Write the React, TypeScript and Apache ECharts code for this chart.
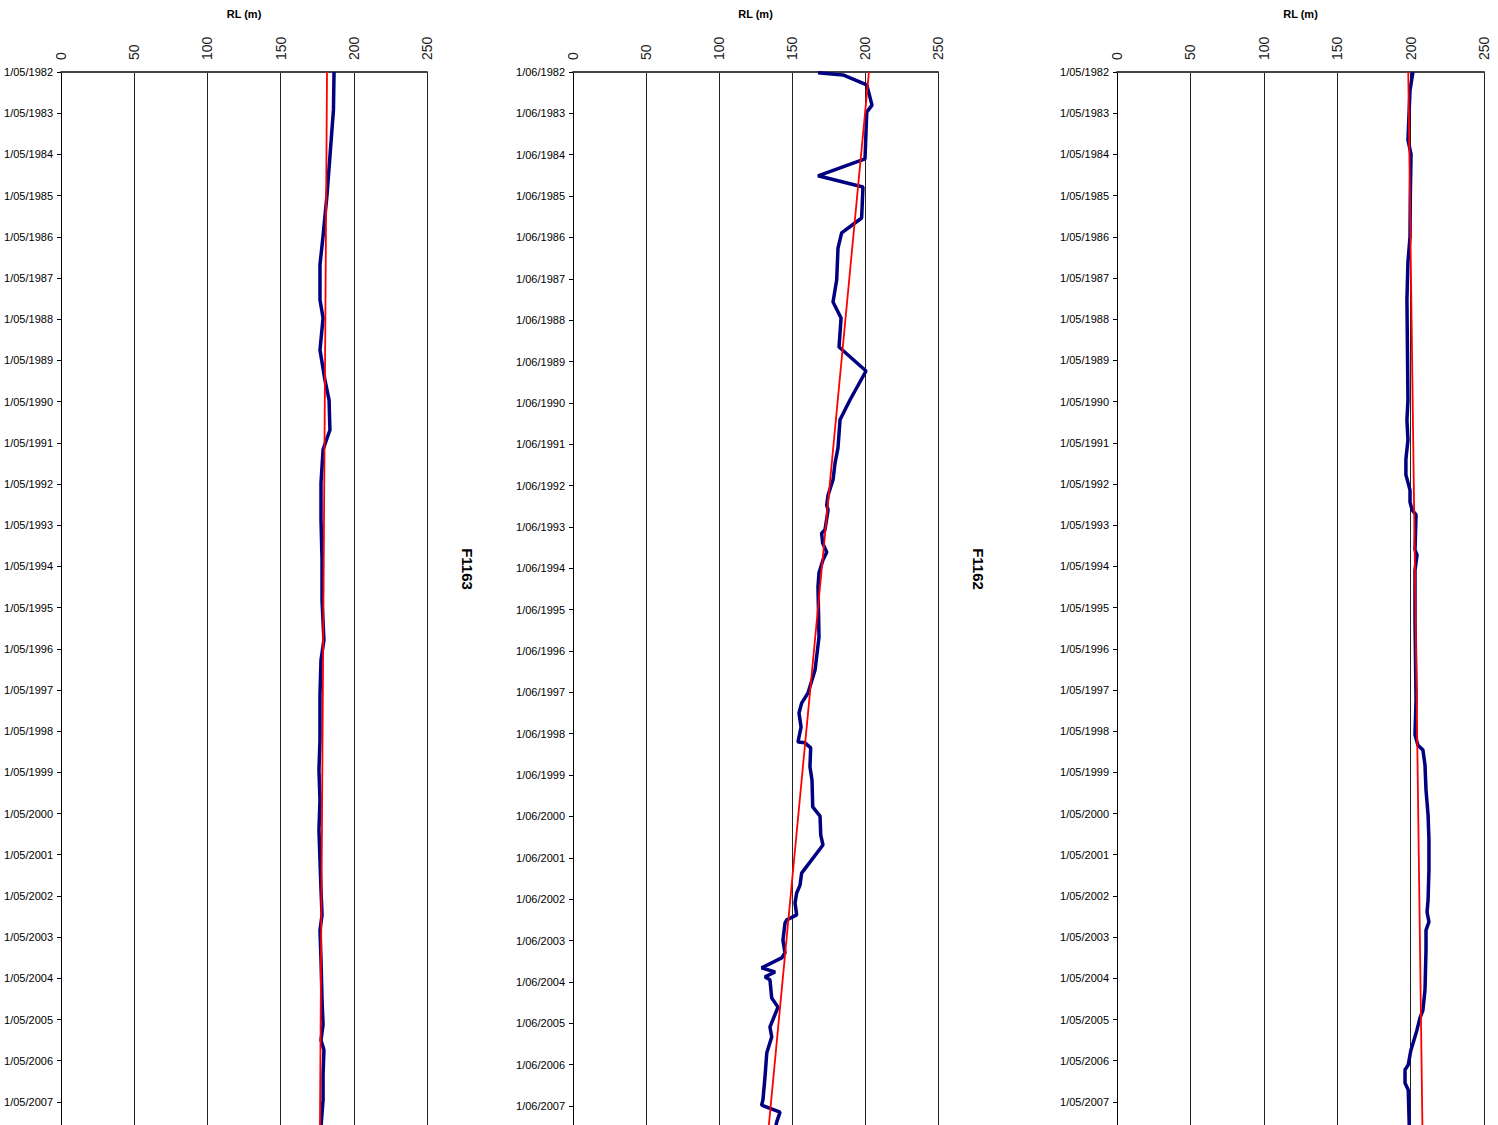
import React, { useEffect, useRef } from "react";
import * as echarts from "echarts";

// Years elapsed since the first label date (1/05/1982 or 1/06/1982)
const F1163_T = [0, 0.92, 2.99, 3.98, 4.68, 5.53, 5.97, 6.75, 7.48, 7.96, 8.69, 8.96, 9.17, 9.98, 10.87, 11.84, 12.82, 13.79, 14.27, 15.12, 16.21, 16.94, 17.67, 18.4, 19.13, 19.85, 20.46, 20.83, 21.55, 22.52, 23.13, 23.5, 23.74, 24.34, 24.95, 25.6];
const F1163_RL = [186.5, 186.1, 181.7, 179.0, 176.9, 176.9, 179.0, 176.9, 180.3, 183.1, 183.7, 181.0, 179.0, 177.6, 177.6, 178.3, 178.3, 179.6, 177.6, 176.9, 176.9, 176.2, 176.9, 176.2, 176.9, 177.6, 178.3, 176.9, 177.6, 178.3, 179.0, 177.6, 179.6, 179.0, 179.0, 177.6];

const F1162_T = [0.02, 0.07, 0.31, 0.8, 0.97, 2.1, 2.51, 2.78, 3.53, 3.89, 4.26, 5.03, 5.56, 5.95, 6.65, 7.23, 7.93, 8.41, 9.09, 9.45, 9.86, 10.23, 10.47, 10.59, 11.07, 11.15, 11.39, 11.61, 11.8, 12.11, 12.45, 13.66, 14.46, 15.01, 15.26, 15.5, 15.84, 16.2, 16.22, 16.34, 16.8, 17.12, 17.77, 17.99, 18.45, 18.69, 19.37, 19.66, 19.85, 20.09, 20.38, 20.5, 20.58, 20.99, 21.3, 21.42, 21.66, 21.76, 21.88, 21.95, 22.39, 22.61, 23.09, 23.33, 23.72, 24.3, 24.85, 24.98, 25.15, 25.39, 25.58];
const F1162_RL = [167.8, 184.9, 201.2, 204.8, 201.2, 200.0, 167.8, 198.6, 197.7, 184.0, 181.5, 180.6, 178.1, 183.6, 182.2, 200.7, 189.7, 182.9, 181.5, 179.5, 178.1, 174.7, 173.8, 174.7, 172.6, 170.3, 171.0, 173.8, 171.2, 168.5, 167.8, 168.5, 165.8, 161.0, 156.6, 154.8, 156.2, 154.1, 158.9, 162.8, 162.3, 163.7, 164.2, 169.2, 169.7, 171.2, 156.6, 155.5, 153.2, 152.1, 153.2, 146.4, 145.2, 143.8, 145.2, 142.9, 129.2, 138.4, 131.5, 134.9, 136.1, 140.4, 134.9, 136.1, 132.7, 131.5, 130.1, 129.2, 141.8, 139.5, 138.4];

const THIRD_T = [0, 0.44, 1.65, 2.0, 3.0, 4.0, 4.61, 5.53, 7.96, 8.45, 8.93, 9.4, 9.78, 10.15, 10.44, 10.63, 10.75, 11.6, 11.72, 12.09, 13.3, 15.24, 16.09, 16.34, 16.46, 16.82, 17.43, 18.03, 18.64, 19.37, 20.1, 20.39, 20.63, 20.83, 21.31, 22.28, 22.77, 22.96, 23.27, 23.56, 23.76, 24.1, 24.22, 24.54, 24.71, 25.6];
const THIRD_RL = [201.6, 199.6, 198.2, 200.3, 199.8, 199.6, 198.2, 197.5, 198.2, 197.5, 198.2, 196.8, 196.8, 199.6, 199.6, 201.0, 203.7, 203.0, 204.4, 203.0, 203.0, 203.7, 203.0, 205.0, 208.4, 209.8, 210.5, 211.9, 212.5, 212.5, 211.9, 211.2, 212.5, 210.5, 210.5, 209.8, 208.4, 206.4, 204.2, 201.8, 200.1, 198.4, 196.2, 196.2, 198.4, 199.1];

// Linear trend lines: values at the start and end times
const TREND_T = [0, 26];
const F1163_TREND = [181.7, 176.8];
const F1162_TREND = [202.7, 132.7];
const THIRD_TREND = [198.4, 208.2];

const RL_MIN = 0;
const RL_MAX = 250;
const RL_STEP = 50;
const START_YEAR = 1982;
const AXIS_TITLE = "RL (m)";
const PANEL_NAMES = ["F1163", "F1162"];
const DATE_PREFIX = ["1/05/", "1/06/", "1/05/"];

function pairs(t: number[], v: number[]) {
  return t.map((ti, i) => [v[i], ti]);
}

function buildOption() {
  const font = "'Liberation Sans', Arial, sans-serif";
  const layout = [
    { left: 61, width: 366, yMax: 25.56 },
    { left: 573, width: 365, yMax: 25.46 },
    { left: 1117, width: 367, yMax: 25.56 },
  ];
  const series = [
    { t: F1163_T, v: F1163_RL, trend: F1163_TREND },
    { t: F1162_T, v: F1162_RL, trend: F1162_TREND },
    { t: THIRD_T, v: THIRD_RL, trend: THIRD_TREND },
  ];
  const grid = layout.map((l) => ({ left: l.left, width: l.width, top: 72, height: 1053, containLabel: false }));
  const xAxis = layout.map((_, i) => ({
    type: "value",
    gridIndex: i,
    position: "top",
    min: RL_MIN,
    max: RL_MAX,
    interval: RL_STEP,
    name: AXIS_TITLE,
    nameLocation: "middle",
    nameGap: 53,
    nameTextStyle: { fontFamily: font, fontSize: 11, fontWeight: "bold", color: "#000" },
    axisLine: { show: true, onZero: false, lineStyle: { color: "#444", width: 2 } },
    axisTick: { show: false },
    axisLabel: { rotate: -90, margin: 12, fontFamily: font, fontSize: 14, color: "#222" },
    splitLine: { show: true, lineStyle: { color: "#222", width: 1 } },
  }));
  const yAxis = layout.map((l, i) => ({
    type: "value",
    gridIndex: i,
    inverse: true,
    min: 0,
    max: l.yMax,
    interval: 1,
    axisLine: { show: true, onZero: false, lineStyle: { color: "#000", width: 1 } },
    axisTick: { show: true, length: 4, lineStyle: { color: "#000" } },
    axisLabel: {
      margin: 8,
      fontFamily: font,
      fontSize: 11,
      color: "#000",
      formatter: (v: number) => (Math.abs(v - Math.round(v)) < 1e-6 ? DATE_PREFIX[i] + (START_YEAR + Math.round(v)) : ""),
    },
    splitLine: { show: false },
  }));
  const s: any[] = [];
  series.forEach((d, i) => {
    s.push({
      type: "line",
      xAxisIndex: i,
      yAxisIndex: i,
      data: pairs(d.t, d.v),
      showSymbol: false,
      symbol: "none",
      lineStyle: { color: "#000080", width: 3.5 },
      z: 2,
    });
    s.push({
      type: "line",
      xAxisIndex: i,
      yAxisIndex: i,
      data: pairs(TREND_T, d.trend),
      showSymbol: false,
      symbol: "none",
      lineStyle: { color: "#ff0000", width: 1.8 },
      z: 3,
    });
  });
  const graphic = [
    { x: 467, y: 569 },
    { x: 978, y: 569 },
  ].map((p, i) => ({
    type: "text",
    x: p.x,
    y: p.y,
    rotation: -Math.PI / 2,
    style: {
      text: PANEL_NAMES[i],
      fontFamily: font,
      fontSize: 15,
      fontWeight: "bold",
      fill: "#000",
      textAlign: "center",
      textVerticalAlign: "middle",
    },
  }));
  return { animation: false, backgroundColor: "#fff", grid, xAxis, yAxis, series: s, graphic };
}

export default function App() {
  const ref = useRef<HTMLDivElement>(null);
  useEffect(() => {
    const chart = echarts.init(ref.current!, null, { renderer: "svg" });
    chart.setOption(buildOption() as any);
    return () => chart.dispose();
  }, []);
  return <div ref={ref} style={{ position: "absolute", left: 0, top: 0, width: 1498, height: 1125 }} />;
}
